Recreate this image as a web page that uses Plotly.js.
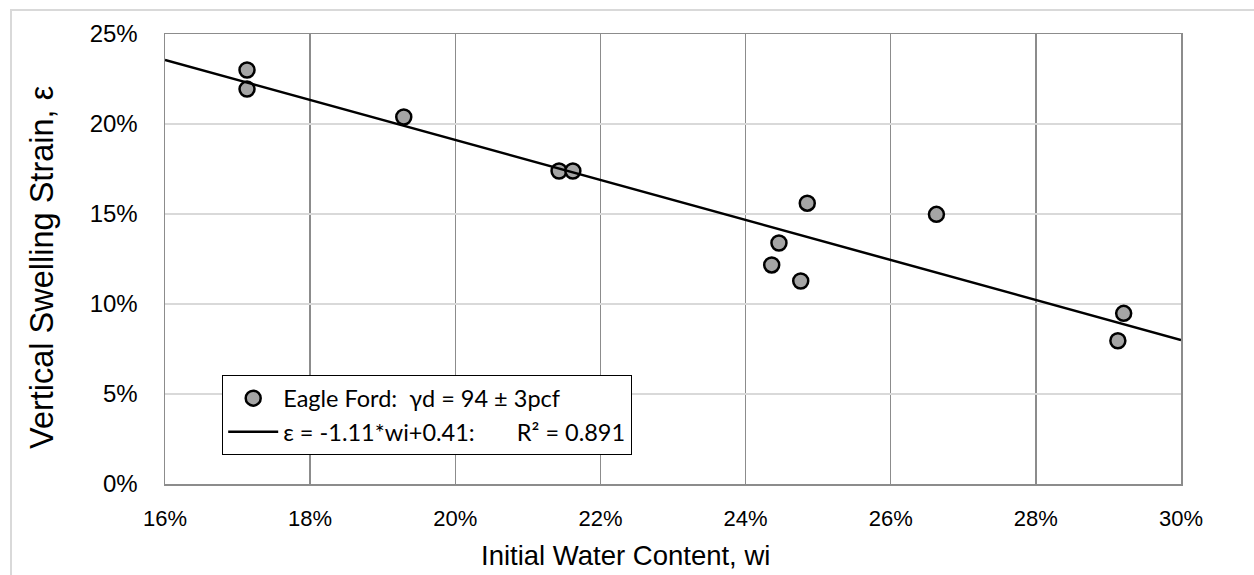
<!DOCTYPE html>
<html>
<head>
<meta charset="utf-8">
<script src="https://cdn.plot.ly/plotly-3.0.1.min.js"></script>
<style>
  html, body { margin: 0; padding: 0; background: #ffffff; }
  #wrap { position: relative; width: 1254px; height: 575px; overflow: hidden; }
  #frame { position: absolute; left: 10px; top: 9px; width: 1300px; height: 700px;
           border-top: 2px solid #d9d9d9; border-left: 2px solid #d9d9d9; pointer-events: none; }
  #chart { position: absolute; left: 0; top: 0; width: 1254px; height: 575px; }
</style>
</head>
<body>
<div id="wrap">
  <div id="chart"></div>
  <div id="frame"></div>
</div>
<script>
// Measured data: initial water content (fraction) vs vertical swelling strain (fraction)
const waterContent = [0.1713, 0.1713, 0.1929, 0.2143, 0.2162, 0.2485, 0.2663, 0.2446, 0.2436, 0.2476, 0.2921, 0.2913];
const swellStrain  = [0.2300, 0.2194, 0.2039, 0.1739, 0.1739, 0.1560, 0.1498, 0.1339, 0.1217, 0.1128, 0.0948, 0.0796];

// Linear trendline read at the plot edges
const trendX = [0.16, 0.30];
const trendY = [0.2356, 0.0800];

const xTicks = [0.16, 0.18, 0.20, 0.22, 0.24, 0.26, 0.28, 0.30];
const yTicks = [0, 0.05, 0.10, 0.15, 0.20, 0.25];

const xTitle = "Initial Water Content, wi";
const yTitle = "Vertical Swelling Strain, \u03b5";
const seriesName = "Eagle\u00a0Ford:\u00a0\u00a0\u03b3d\u00a0=\u00a094\u00a0\u00b1\u00a03pcf";
const trendName = "\u03b5\u00a0=\u00a0-1.11*wi+0.41:\u00a0\u00a0\u00a0\u00a0\u00a0\u00a0\u00a0R\u00b2\u00a0=\u00a00.891";

const traces = [
  {
    x: waterContent, y: swellStrain, type: "scatter", mode: "markers", name: seriesName,
    legendgroup: "a",
    marker: { size: 15, color: "#a5a5a5", line: { color: "#000000", width: 2.5 } }
  },
  {
    x: trendX, y: trendY, type: "scatter", mode: "lines", name: trendName,
    legendgroup: "b",
    line: { color: "#000000", width: 2.5 }
  }
];

const layout = {
  width: 1254, height: 575,
  margin: { l: 165, r: 73, t: 34, b: 91, pad: 0 },
  paper_bgcolor: "rgba(0,0,0,0)",
  plot_bgcolor: "#ffffff",
  font: { family: "Liberation Sans, Arial, sans-serif", color: "#000000", size: 23 },
  showlegend: true,
  legend: {
    x: 0.056, y: 0.242, xanchor: "left", yanchor: "top",
    bgcolor: "#ffffff", bordercolor: "#000000", borderwidth: 1.3,
    font: { family: "Lato, Carlito, Calibri, sans-serif", size: 23.5, color: "#000000" },
    tracegroupgap: 0, itemwidth: 50
  },
  xaxis: {
    range: [0.16, 0.30], tickvals: xTicks, tickformat: ".0%",
    showgrid: true, gridcolor: "#8c8c8c", gridwidth: 1.3,
    showline: true, linecolor: "#8c8c8c", linewidth: 1.5, mirror: true,
    zeroline: false, ticks: "", ticklen: 0, ticklabelstandoff: 14,
    tickfont: { size: 22 },
    automargin: false
  },
  yaxis: {
    range: [0, 0.25], tickvals: yTicks, tickformat: ".0%",
    showgrid: true, gridcolor: "#d9d9d9", gridwidth: 1.3,
    showline: true, linecolor: "#8c8c8c", linewidth: 1.5, mirror: true,
    zeroline: false, ticks: "", ticklen: 0, ticklabelstandoff: 21,
    tickfont: { size: 24 },
    automargin: false
  },
  annotations: [
    {
      text: xTitle, xref: "paper", yref: "paper",
      x: (625 - 165) / 1016, y: (484 - 555) / 450, xanchor: "center", yanchor: "middle",
      showarrow: false, font: { size: 27.5 }
    },
    {
      text: yTitle, xref: "paper", yref: "paper", textangle: -90,
      x: (42 - 165) / 1016, y: (484 - 268) / 450, xanchor: "center", yanchor: "middle",
      showarrow: false, font: { size: 32.5 }
    }
  ]
};

Plotly.newPlot("chart", traces, layout, { staticPlot: true, displayModeBar: false });
</script>
</body>
</html>
